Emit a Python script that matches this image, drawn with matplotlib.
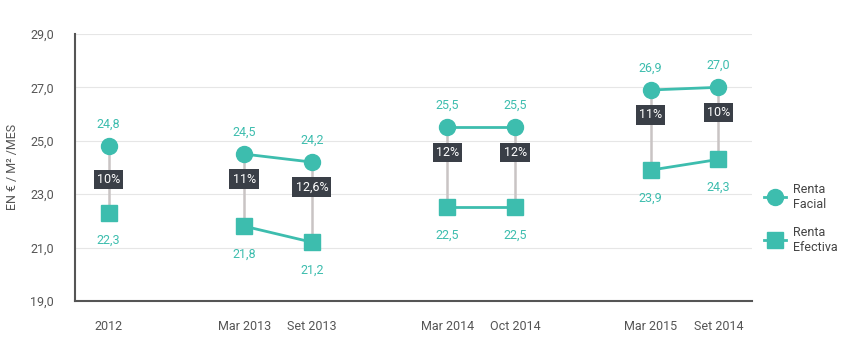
import matplotlib
matplotlib.use("Agg")
import matplotlib.pyplot as plt
from matplotlib.lines import Line2D

# data
periods = ["2012", "Mar 2013", "Set 2013", "Mar 2014", "Oct 2014", "Mar 2015", "Set 2014"]
x_pos = [0, 2, 3, 5, 6, 8, 9]
groups = [[0], [1, 2], [3, 4], [5, 6]]
renta_facial = [24.8, 24.5, 24.2, 25.5, 25.5, 26.9, 27.0]
renta_efectiva = [22.3, 21.8, 21.2, 22.5, 22.5, 23.9, 24.3]
descuento = ["10%", "11%", "12,6%", "12%", "12%", "11%", "10%"]
y_ticks = [19, 21, 23, 25, 27, 29]

teal = "#3dbdae"
dark = "#3a3f47"
grey_txt = "#555555"

plt.rcParams["font.family"] = ["Roboto", "DejaVu Sans"]

fig = plt.figure(figsize=(8.5, 3.57), dpi=100)
ax = fig.add_axes([0.088, 0.157, 0.797, 0.748])

for y in y_ticks[1:]:
    ax.axhline(y, color="#e6e6e6", lw=0.8, zorder=0)

# vertical connectors
for i, x in enumerate(x_pos):
    ax.plot([x, x], [renta_efectiva[i], renta_facial[i]], color="#c9c4c4", lw=1.8, zorder=1)

for g in groups:
    xs = [x_pos[i] for i in g]
    ax.plot(xs, [renta_facial[i] for i in g], color=teal, lw=2, marker="o",
            ms=11.5, zorder=3)
    ax.plot(xs, [renta_efectiva[i] for i in g], color=teal, lw=2, marker="s",
            ms=11, zorder=3)

for i, x in enumerate(x_pos):
    ax.annotate(f"{renta_facial[i]:.1f}".replace(".", ","), (x, renta_facial[i]),
                xytext=(0, 16), textcoords="offset points", ha="center", va="center",
                color=teal, fontsize=9)
    ax.annotate(f"{renta_efectiva[i]:.1f}".replace(".", ","), (x, renta_efectiva[i]),
                xytext=(0, -20), textcoords="offset points", ha="center", va="center",
                color=teal, fontsize=9)
    off = -24 if i == 0 else -18
    ax.annotate(descuento[i], (x, renta_facial[i]), xytext=(0, off),
                textcoords="offset points", ha="center", va="center",
                color="white", fontsize=9, zorder=5,
                bbox=dict(boxstyle="square,pad=0.25", fc=dark, ec="none"))

ax.set_xlim(-0.5, 9.5)
ax.set_ylim(19, 29)
ax.set_yticks(y_ticks)
ax.set_yticklabels([f"{v:.1f}".replace(".", ",") for v in y_ticks])
ax.set_xticks(x_pos)
ax.set_xticklabels(periods)
ax.tick_params(length=0, labelsize=9, colors=grey_txt, pad=14)
ax.tick_params(axis="y", pad=15)
for s in ["top", "right"]:
    ax.spines[s].set_visible(False)
for s in ["left", "bottom"]:
    ax.spines[s].set_color("#555555")
    ax.spines[s].set_linewidth(1.5)
ax.set_ylabel("EN € / M² /MES", color=grey_txt, fontsize=9)
ax.yaxis.set_label_coords(-0.082, 0.5)

handles = [
    Line2D([], [], color=teal, lw=2, marker="o", ms=11.5),
    Line2D([], [], color=teal, lw=2, marker="s", ms=11),
]
ax.legend(handles, ["Renta\nFacial", "Renta\nEfectiva"], loc="center left",
          bbox_to_anchor=(1.0, 0.31), frameon=False, fontsize=9,
          labelcolor="#444444", handlelength=1.8, labelspacing=1.2,
          handletextpad=0.6)

fig.savefig("out.png", dpi=100)
